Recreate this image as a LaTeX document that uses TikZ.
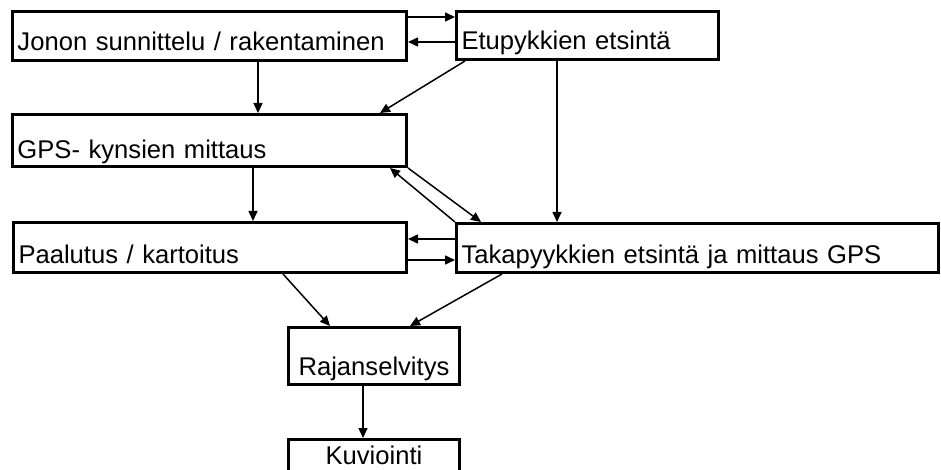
\documentclass[tikz,border=0pt]{standalone}
\usepackage{fontspec}
\setmainfont{Liberation Sans}
\usetikzlibrary{arrows.meta}
\begin{document}
\begin{tikzpicture}[x=.5pt,y=-.5pt,
	box/.style={draw,line width=1.5pt,anchor=north west,inner xsep=2.5pt,inner ysep=0pt,align=left,font=\fontsize{12.8}{15}\selectfont},
	arr/.style={line width=.75pt,-{Triangle[length=5pt,width=4.5pt]}}]
	\useasboundingbox(0,0)rectangle(941,470);
	\clip(0,0)rectangle(941,470);
	% laatikot
	\node[box,text width=192pt,text height=19.5pt,text depth=5pt](jonon)at(11,10){Jonon sunnittelu / rakentaminen};
	\node[box,text width=126pt,text height=19pt,text depth=5pt](etu)at(455,10){Etupykkien etsintä};
	\node[box,text width=192pt,text height=22pt,text depth=4pt](gps)at(11,113){GPS- kynsien mittaus};
	\node[box,text width=191.5pt,text height=20.5pt,text depth=4.5pt](paal)at(12,221){Paalutus / kartoitus};
	\node[box,text width=236pt,text height=20pt,text depth=4.5pt](taka)at(455,222){Takapyykkien etsintä ja mittaus GPS};
	\node[box,align=center,text width=80.5pt,text height=24pt,text depth=4.5pt](raja)at(287,326){Rajanselvitys};
	\node[box,align=center,text width=80.5pt,text height=12.5pt,text depth=16pt](kuvi)at(287,438){Kuviointi};
	% nuolet
	\draw[arr]([yshift=-3.5pt]jonon.north east)--([yshift=-3.5pt]jonon.north east-|etu.west);
	\draw[arr]([yshift=-16pt]etu.north west)--([yshift=-16pt]etu.north west-|jonon.east);
	\draw[arr]([xshift=123.5pt]jonon.south west)--([xshift=123.5pt]gps.north west);
	\draw[arr]([xshift=5pt]etu.south west)--([xshift=-14pt]gps.north east);
	\draw[arr]([xshift=51pt]etu.south west)--([xshift=51pt]taka.north west);
	\draw[arr]([xshift=121pt]gps.south west)--([xshift=121pt]gps.south west|-paal.north);
	\draw[arr](gps.south east)--([xshift=13pt]taka.north west);
	\draw[arr](taka.north west)--([xshift=-9pt]gps.south east);
	\draw[arr]([yshift=-8.5pt]taka.north west)--([yshift=-8.5pt]taka.north west-|paal.east);
	\draw[arr]([yshift=-19.5pt]paal.north east)--([yshift=-19.5pt]paal.north east-|taka.west);
	\draw[arr]([xshift=135.5pt]paal.south west)--([xshift=21.5pt]raja.north west);
	\draw[arr]([xshift=23.5pt]taka.south west)--([xshift=61.5pt]raja.north west);
	\draw[arr]([xshift=38pt]raja.south west)--([xshift=38pt]kuvi.north west);
\end{tikzpicture}
\end{document}
